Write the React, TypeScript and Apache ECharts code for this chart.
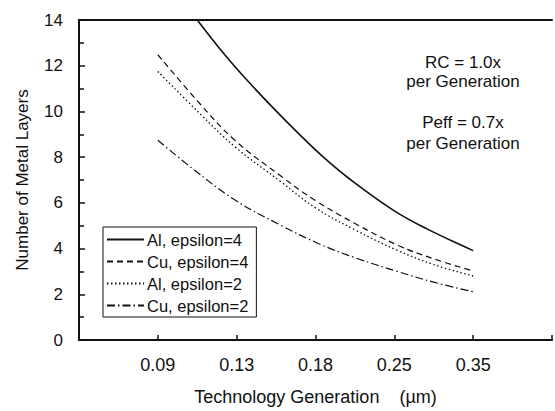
import React, { useEffect, useRef } from "react";
import * as echarts from "echarts";

const tickLabels = ["", "0.09", "0.13", "0.18", "0.25", "0.35", ""];
const seriesNames = ["Al, epsilon=4", "Cu, epsilon=4", "Al, epsilon=2", "Cu, epsilon=2"];
const alEps4 = [[1.5, 14.0], [1.82, 12.6], [2.11, 11.45], [2.45, 10.2], [2.78, 9.05], [3.1, 8.0], [3.45, 7.0], [4.0, 5.65], [4.42, 4.85], [4.88, 4.1], [5.0, 3.91]];
const cuEps4 = [[1.0, 12.48], [1.52, 10.39], [1.98, 8.73], [2.57, 7.15], [3.0, 6.1], [3.5, 5.1], [4.04, 4.15], [4.5, 3.55], [5.0, 3.02]];
const alEps2 = [[1.0, 11.75], [1.52, 9.95], [1.98, 8.45], [2.57, 6.9], [3.0, 5.78], [3.5, 4.82], [4.04, 3.92], [4.5, 3.3], [5.0, 2.8]];
const cuEps2 = [[1.0, 8.74], [1.44, 7.5], [1.98, 6.12], [2.57, 5.0], [3.05, 4.2], [3.5, 3.6], [4.04, 3.0], [4.5, 2.53], [5.0, 2.11]];
const notes = ["RC = 1.0x", "per Generation", "Peff = 0.7x", "per Generation"];

const FONT = "'Liberation Sans', Arial, sans-serif";
const INK = "#111";

export default function App() {
  const ref = useRef<HTMLDivElement>(null);
  useEffect(() => {
    const chart = echarts.init(ref.current!, null, { renderer: "svg" });
    const lineTypes: any[] = ["solid", [6, 4], [1.5, 2.5], [8, 3, 1.5, 3]];
    const datas = [alEps4, cuEps4, alEps2, cuEps2];
    const widths = [1.6, 1.2, 1.3, 1.2];
    const noteY = [62, 81, 122, 143];
    chart.setOption({
      animation: false,
      textStyle: { fontFamily: FONT, color: INK },
      grid: { left: 79, right: 0, top: 20, bottom: 68 },
      legend: {
        orient: "vertical",
        left: 103,
        top: 227,
        data: seriesNames,
        itemWidth: 37,
        itemHeight: 14,
        itemGap: 5,
        padding: [4, 8, 3, 3],
        borderColor: INK,
        borderWidth: 1,
        backgroundColor: "#fff",
        itemStyle: { borderWidth: 0 },
        textStyle: { fontSize: 16.5, lineHeight: 16, color: INK, fontFamily: FONT, padding: [0, 0, 0, -2] },
      },
      xAxis: [
        {
          type: "value",
          min: 0,
          max: 6,
          interval: 1,
          position: "bottom",
          axisLine: { lineStyle: { color: INK, width: 2 } },
          axisTick: { inside: true, length: 5, lineStyle: { color: INK, width: 1.5 } },
          splitLine: { show: false },
          axisLabel: {
            formatter: (v: number) => tickLabels[Math.round(v)] ?? "",
            fontSize: 18,
            color: INK,
            margin: 16,
            fontFamily: FONT,
          },
          name: "Technology Generation    (\u00b5m)",
          nameLocation: "middle",
          nameGap: 48,
          nameTextStyle: { fontSize: 18, color: INK, fontFamily: FONT },
        },
        {
          type: "value",
          min: 0,
          max: 6,
          position: "top",
          axisLine: { show: true, onZero: false, lineStyle: { color: INK, width: 2 } },
          axisTick: { show: false },
          axisLabel: { show: false },
          splitLine: { show: false },
        },
      ],
      yAxis: {
        type: "value",
        min: 0,
        max: 14,
        interval: 2,
        minorTick: { show: true, splitNumber: 2, length: 5, lineStyle: { color: INK, width: 1.5 } },
        axisLine: { show: true, lineStyle: { color: INK, width: 2 } },
        axisTick: { show: true, inside: true, length: 6, lineStyle: { color: INK, width: 1.5 } },
        splitLine: { show: false },
        axisLabel: { fontSize: 17, color: INK, margin: 16, fontFamily: FONT },
        name: "Number of Metal Layers",
        nameLocation: "middle",
        nameGap: 48,
        nameTextStyle: { fontSize: 17, color: INK, fontFamily: FONT },
      },
      graphic: notes.map((t, i) => ({
        type: "text",
        x: 463,
        y: noteY[i],
        style: { text: t, fontSize: 17, fill: INK, fontFamily: FONT, align: "center", verticalAlign: "middle" },
      })),
      series: seriesNames.map((name, i) => ({
        name,
        type: "line",
        data: datas[i],
        smooth: 0.4,
        symbol: "none",
        lineStyle: { color: INK, width: widths[i], type: lineTypes[i] },
        itemStyle: { color: "rgba(0,0,0,0)", borderWidth: 0 },
      })),
    });
    return () => chart.dispose();
  }, []);
  return <div ref={ref} style={{ width: 555, height: 411, position: "absolute", left: 0, top: 0 }} />;
}
